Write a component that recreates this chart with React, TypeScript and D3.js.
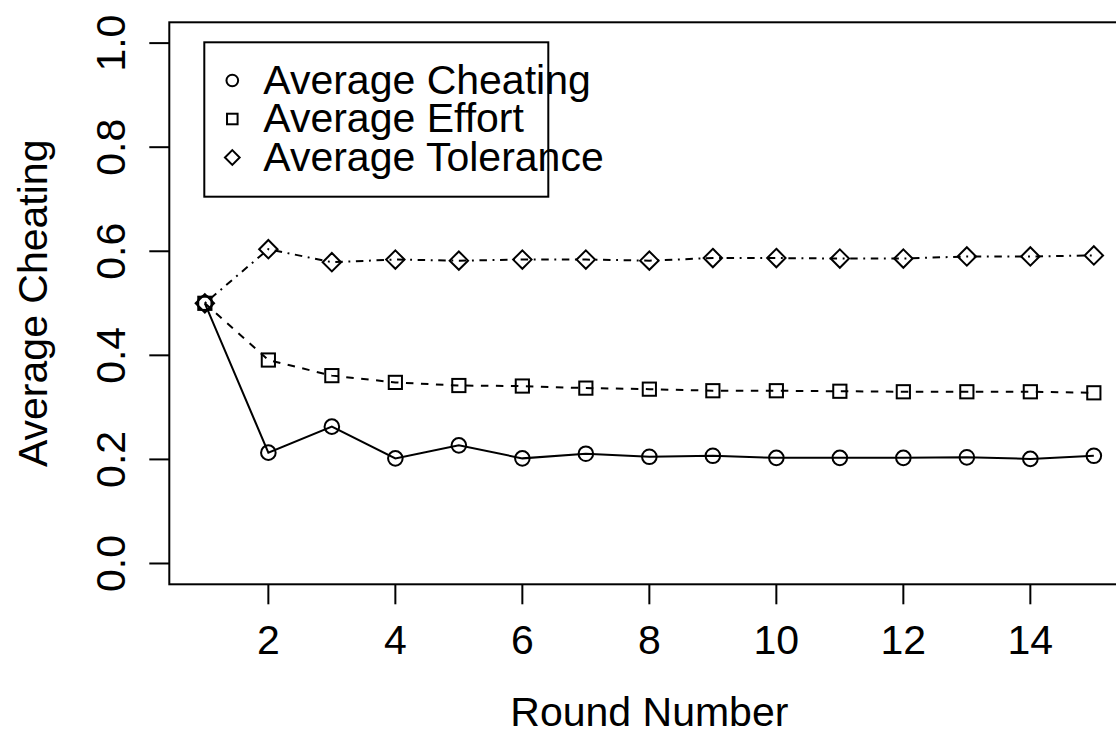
import React from 'react';
import * as d3 from 'd3';

// rounds 1..15
const rounds = [1, 2, 3, 4, 5, 6, 7, 8, 9, 10, 11, 12, 13, 14, 15];
const cheating = [0.5, 0.213, 0.263, 0.202, 0.227, 0.202, 0.211, 0.205, 0.207, 0.203, 0.203, 0.203, 0.204, 0.201, 0.207];
const effort = [0.5, 0.391, 0.361, 0.348, 0.342, 0.341, 0.337, 0.335, 0.332, 0.332, 0.331, 0.330, 0.330, 0.330, 0.328];
const tolerance = [0.5, 0.604, 0.579, 0.584, 0.582, 0.584, 0.584, 0.582, 0.587, 0.587, 0.586, 0.586, 0.590, 0.590, 0.592];

const xTicks = [2, 4, 6, 8, 10, 12, 14];
const yTicks = [0, 0.2, 0.4, 0.6, 0.8, 1.0];
const legendLabels = ['Average Cheating', 'Average Effort', 'Average Tolerance'];

const W = 1116;
const H = 733;
const FONT = '"Liberation Sans", Arial, Helvetica, sans-serif';

const App = () => {
  const x = d3.scaleLinear().domain([0.44, 15.56]).range([169.3, 1129.4]);
  const y = d3.scaleLinear().domain([-0.04, 1.04]).range([584.3, 22.3]);

  const line = d3
    .line<number>()
    .x((_, i) => x(rounds[i]))
    .y((d) => y(d));

  const series = [
    { values: cheating, shape: 'circle', dash: null },
    { values: effort, shape: 'square', dash: '7.5,7.5' },
    { values: tolerance, shape: 'diamond', dash: '1.9,5.6,7.5,5.6' },
  ];

  const marker = (shape: string, cx: number, cy: number, s: number, key: string) => {
    if (shape === 'circle') {
      return <circle key={key} cx={cx} cy={cy} r={7.3 * s} fill="none" stroke="#000" strokeWidth={2} />;
    }
    if (shape === 'square') {
      const h = 6.6 * s;
      return <rect key={key} x={cx - h} y={cy - h} width={2 * h} height={2 * h} fill="none" stroke="#000" strokeWidth={2} />;
    }
    const d = 9.2 * s;
    return (
      <path
        key={key}
        d={`M${cx},${cy - d}L${cx + d},${cy}L${cx},${cy + d}L${cx - d},${cy}Z`}
        fill="none"
        stroke="#000"
        strokeWidth={2}
      />
    );
  };

  const [x0, x1] = x.range();
  const [y0, y1] = y.range();

  // legend layout
  const lgX = 204.3;
  const lgY = 42.3;
  const lgW = 344;
  const lgH = 154.4;
  const rowStep = 38.5;
  const firstRow = 80.5;

  return (
    <svg
      width={W}
      height={H}
      style={{ position: 'absolute', left: 0, top: 0, background: '#fff' }}
      fontFamily={FONT}
    >
      <rect width={W} height={H} fill="#fff" />

      {/* plot box */}
      <rect x={x0} y={y1} width={x1 - x0} height={y0 - y1} fill="none" stroke="#000" strokeWidth={2} />

      {/* x axis */}
      {xTicks.map((t) => (
        <g key={'xt' + t}>
          <line x1={x(t)} x2={x(t)} y1={y0} y2={y0 + 20} stroke="#000" strokeWidth={2} />
          <text x={x(t)} y={654} textAnchor="middle" fontSize={41} fill="#000">
            {t}
          </text>
        </g>
      ))}

      {/* y axis */}
      {yTicks.map((t) => (
        <g key={'yt' + t}>
          <line x1={x0 - 20} x2={x0} y1={y(t)} y2={y(t)} stroke="#000" strokeWidth={2} />
          <text
            transform={`translate(125,${y(t)}) rotate(-90)`}
            textAnchor="middle"
            fontSize={41}
            fill="#000"
          >
            {t.toFixed(1)}
          </text>
        </g>
      ))}

      <text x={(x0 + x1) / 2} y={726} textAnchor="middle" fontSize={41} fill="#000">
        Round Number
      </text>
      <text
        transform={`translate(47,${(y0 + y1) / 2}) rotate(-90)`}
        textAnchor="middle"
        fontSize={41}
        fill="#000"
      >
        Average Cheating
      </text>

      {/* series */}
      {series.map((s, si) => (
        <g key={'s' + si}>
          <path
            d={line(s.values) || ''}
            fill="none"
            stroke="#000"
            strokeWidth={2}
            strokeDasharray={s.dash || undefined}
          />
          {s.values.map((v, i) => marker(s.shape, x(rounds[i]), y(v), 1, `m${si}-${i}`))}
        </g>
      ))}

      {/* legend */}
      <rect x={lgX} y={lgY} width={lgW} height={lgH} fill="none" stroke="#000" strokeWidth={2} />
      {legendLabels.map((lab, i) => {
        const cy = firstRow + i * rowStep;
        return (
          <g key={'lg' + i}>
            {marker(series[i].shape, 232.3, cy, 0.8, 'lm' + i)}
            <text x={263.3} y={cy + 13} fontSize={41} fill="#000">
              {lab}
            </text>
          </g>
        );
      })}
    </svg>
  );
};

export default App;
